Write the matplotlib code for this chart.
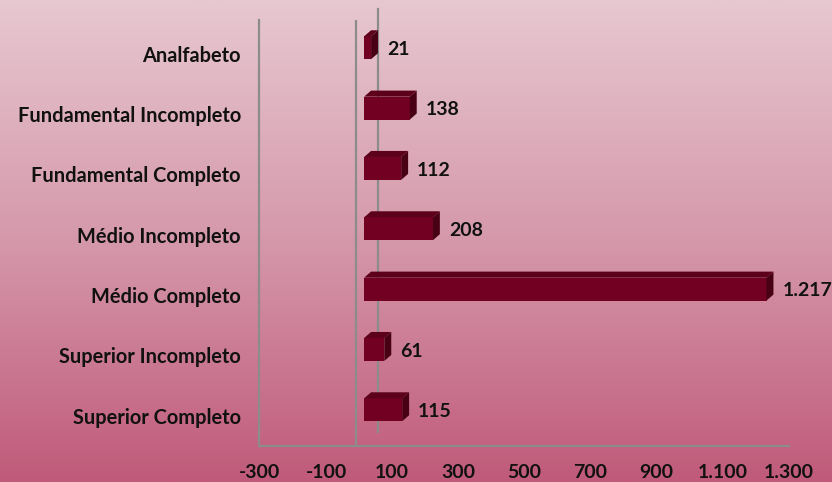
import numpy as np
import matplotlib.pyplot as plt
from matplotlib.patches import Polygon
from matplotlib.colors import LinearSegmentedColormap

# data
categories = ['Analfabeto', 'Fundamental Incompleto', 'Fundamental Completo',
              'Médio Incompleto', 'Médio Completo', 'Superior Incompleto',
              'Superior Completo']
values = [21, 138, 112, 208, 1217, 61, 115]
value_labels = ['21', '138', '112', '208', '1.217', '61', '115']
tick_values = [-300, -100, 100, 300, 500, 700, 900, 1100, 1300]
tick_labels = ['-300', '-100', '100', '300', '500', '700', '900', '1.100', '1.300']

plt.rcParams['font.family'] = ['Lato', 'DejaVu Sans']

fig = plt.figure(figsize=(8.32, 4.82), dpi=100)

# background gradient
bg = fig.add_axes([0, 0, 1, 1])
bg_cmap = LinearSegmentedColormap.from_list('bg', ['#e7c8d0', '#d598ab', '#c05a7a'])
bg.imshow(np.linspace(0, 1, 256).reshape(-1, 1), aspect='auto', cmap=bg_cmap,
          extent=[0, 1, 0, 1])
bg.axis('off')

ax = fig.add_axes([259 / 832, 36 / 482, 530 / 832, 426 / 482])
ax.patch.set_alpha(0)
ax.set_xlim(-318, 1272)
ax.set_ylim(6.5, -0.56)

# depth of the 3d bars
dx, dy = 21, -0.1
h = 0.38
yoff = -0.1
# the axis labels sit a bit left of the bar front faces (3d projection)
label_shift = -15

front_c = '#720022'
top_c = '#5c001b'
side_c = '#480014'

# back wall lines
ax.plot([-24, -24], [6.5, -0.56], color='#8c8c8c', lw=1.6, zorder=1)
ax.plot([42, 42], [6.27, -0.75], color='#8c8c8c', lw=1.6, zorder=1, clip_on=False)

ys = np.arange(len(categories))
ax.barh(ys + yoff, values, height=h, color=front_c, zorder=3)
for y, v, lab in zip(ys, values, value_labels):
    y0 = y + yoff - h / 2
    y1 = y + yoff + h / 2
    top = Polygon([[0, y0], [v, y0], [v + dx, y0 + dy], [dx, y0 + dy]],
                  closed=True, color=top_c, zorder=3, lw=0)
    side = Polygon([[v, y0], [v + dx, y0 + dy], [v + dx, y1 + dy], [v, y1]],
                   closed=True, color=side_c, zorder=3, lw=0)
    ax.add_patch(top)
    ax.add_patch(side)
    ax.text(v + dx + 27, y - 0.07, lab, va='center', ha='left', fontsize=14,
            fontweight='bold', color='#111111', clip_on=False)

ax.set_yticks(ys)
ax.set_yticklabels(categories, fontsize=14.4, fontweight='bold', color='#111111')
ax.set_xticks([t + label_shift for t in tick_values])
ax.set_xticklabels(tick_labels, fontsize=14, fontweight='bold', color='#111111')
ax.tick_params(length=0, pad=13, axis='y')
ax.tick_params(length=0, pad=13, axis='x')

for s in ['top', 'right']:
    ax.spines[s].set_visible(False)
for s in ['left', 'bottom']:
    ax.spines[s].set_color('#8c8c8c')
    ax.spines[s].set_linewidth(1.6)

fig.savefig('out.png', dpi=100)
